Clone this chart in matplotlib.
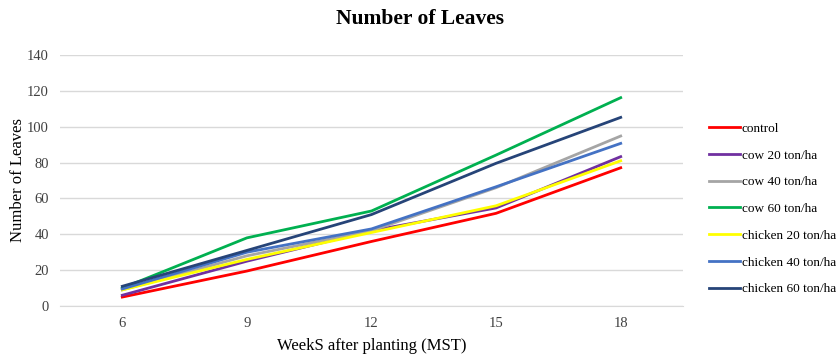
import numpy as np
import matplotlib.pyplot as plt

plt.rcParams['font.family'] = ['Liberation Serif', 'DejaVu Serif']

weeks = ['6', '9', '12', '15', '18']
control = [5, 19.5, 36, 51.7, 77.1]
cow_20 = [6, 25, 42, 54.7, 83.3]
cow_40 = [9, 28, 42, 66, 94.8]
cow_60 = [10, 38, 53, 84.2, 116.2]
chicken_20 = [9, 26, 41, 55.9, 81]
chicken_40 = [9.5, 30, 43, 66.5, 90.7]
chicken_60 = [11, 31, 51, 79.6, 105.2]

series = [
    ('control', control, '#FF0000'),
    ('cow 20 ton/ha', cow_20, '#7030A0'),
    ('cow 40 ton/ha', cow_40, '#A5A5A5'),
    ('cow 60 ton/ha', cow_60, '#00B050'),
    ('chicken 20 ton/ha', chicken_20, '#FFFF00'),
    ('chicken 40 ton/ha', chicken_40, '#4472C4'),
    ('chicken 60 ton/ha', chicken_60, '#264478'),
]

fig = plt.figure(figsize=(8.4, 3.58), dpi=100)
ax = fig.add_axes([60 / 840, 52 / 358, 623 / 840, 251 / 358])

x = np.arange(len(weeks))
for name, vals, col in series:
    ax.plot(x, vals, color=col, lw=2, label=name)

ax.set_xlim(-0.5, len(weeks) - 0.5)
ax.set_ylim(0, 140)
ax.set_yticks(range(0, 141, 20))
ax.set_xticks(x)
ax.set_xticklabels(weeks)
ax.grid(axis='y', color='#D9D9D9', lw=1)
ax.set_axisbelow(True)
for s in ['top', 'right', 'left']:
    ax.spines[s].set_visible(False)
ax.spines['bottom'].set_color('#D9D9D9')
ax.tick_params(length=0, labelsize=10.5, colors='#404040', pad=8)

ax.set_xlabel('WeekS after planting (MST)', fontsize=12, labelpad=6)
ax.set_ylabel('Number of Leaves', fontsize=12, labelpad=1)
fig.suptitle('Number of Leaves', fontsize=15.5, fontweight='bold', y=0.975)

ax.legend(loc='center left', bbox_to_anchor=(702 / 840, 0.4165),
          bbox_transform=fig.transFigure, frameon=False, borderpad=0,
          fontsize=9.5, handlelength=2.4, handletextpad=0.1, labelspacing=1.1)

fig.savefig('out.png', dpi=100)
